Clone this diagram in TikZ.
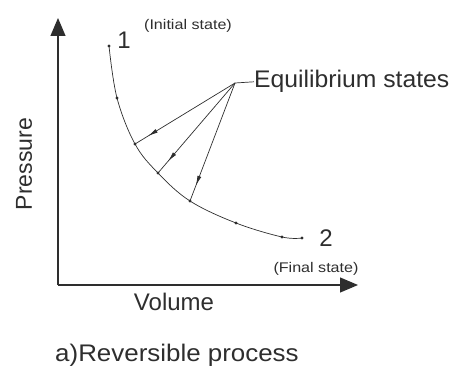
\documentclass[tikz,border=0pt]{standalone}
\usepackage{fontspec}
\setmainfont{Liberation Sans}
\usepackage{xcolor}
\usepackage{tikz}
\usetikzlibrary{arrows.meta,decorations.markings}
\definecolor{ink}{HTML}{2E2E2E}

\tikzset{
  eqline/.style={line width=0.7pt, ink, decoration={markings,
      mark=at position 0.87 with {\arrow{Latex[length=10pt,width=4pt]}}},
    postaction={decorate}},
  state/.style={fill=ink, circle, inner sep=0pt, minimum size=3.2pt},
  tiny/.style={font=\fontsize{14}{16}\selectfont, xscale=1.15}
}

\begin{document}
\begin{tikzpicture}[x=1pt, y=1pt, yscale=-1, >=Triangle,
  every node/.style={text=ink, font=\fontsize{24}{28}\selectfont}]
\useasboundingbox (0,0) rectangle (458,369);

% axes
\coordinate (o) at (58,285);
\coordinate (ytip) at (58,18);
\coordinate (xtip) at (358,285);
\draw[ink, line width=1.2pt, -{Triangle[length=18pt,width=15pt]}] (o) -- (ytip);
\draw[ink, line width=1.2pt, -{Triangle[length=18pt,width=15pt]}] (o) -- (xtip);
\node (pres) [rotate=90, font=\fontsize{23}{26}\selectfont] at (24,164) {Pressure};
\node (vol) at (174,302) {Volume};

% the process curve
\coordinate (s1) at (109,46);
\coordinate (d1) at (117,98);
\coordinate (e1) at (135,144);
\coordinate (e2) at (158,173);
\coordinate (e3) at (190,201);
\coordinate (d2) at (236,223);
\coordinate (d3) at (282,237);
\coordinate (s2) at (302,238);
\draw[ink, line width=0.7pt] plot[smooth, tension=0.6] coordinates {(s1) (d1) (e1) (e2) (e3) (d2) (d3) (s2)};
\foreach \p in {s1,d1,e1,e2,e3,d2,d3,s2}
  \node[state] at (\p) {};

\node (one) at (124,40) {1};
\node (init) [tiny] at (188,26) {(Initial state)};
\node (two) at (326,238) {2};
\node (final) [tiny] at (316,269) {(Final state)};

% equilibrium states
\coordinate (hub) at (235,83);
\node (eq) [anchor=base west, inner sep=0pt, xscale=1.03] at (254,88) {Equilibrium states};
\draw[ink, line width=0.7pt] (hub) -- (eq.west);
\foreach \p in {e1,e2,e3}
  \draw[eqline] (hub) -- (\p);

\node (cap) [anchor=base west, inner sep=0pt, xscale=1.08] at (55,361) {a)Reversible process};
\end{tikzpicture}
\end{document}
